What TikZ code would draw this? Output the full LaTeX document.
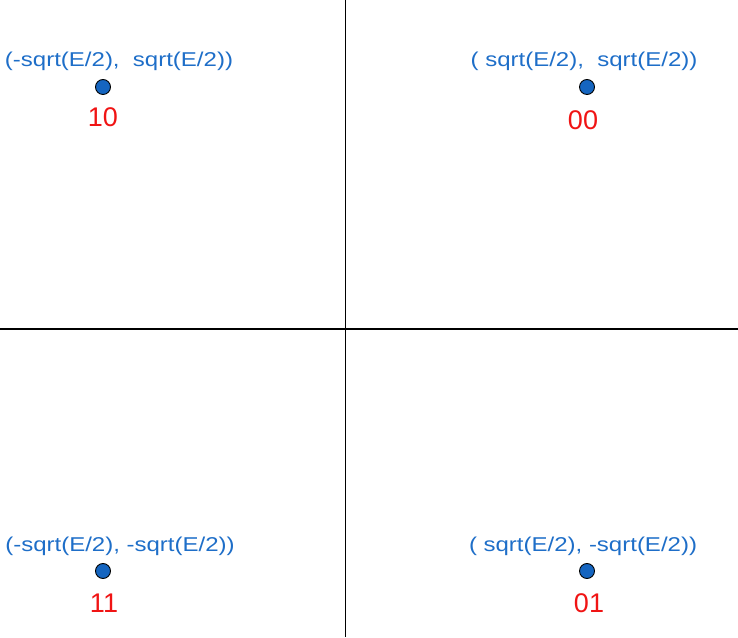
\documentclass[tikz,border=0pt]{standalone}
\usepackage{fontspec}
\setmainfont{Liberation Sans}
\usepackage{tikz}
\usetikzlibrary{positioning}
\definecolor{ptblue}{RGB}{21,101,192}
\definecolor{txtblue}{RGB}{30,110,200}
\definecolor{bitred}{RGB}{240,20,20}
\tikzset{
  axis/.style={line width=1.2pt, black},
  point/.style={circle, draw=black, fill=ptblue, line width=0.9pt, minimum size=15pt, inner sep=0pt},
  coordlabel/.style={text=txtblue, inner sep=0pt, font=\fontsize{20}{24}\selectfont, xscale=1.2},
  bits/.style={text=bitred, inner sep=0pt, font=\fontsize{27}{32}\selectfont}
}
\begin{document}
\begin{tikzpicture}[x=1pt, y=1pt]
        \useasboundingbox (0,0) rectangle (738,637);
        % axes
        \coordinate (top) at (345.5,637);
        \coordinate (bottom) at (345.5,0);
        \coordinate (left) at (0,308);
        \coordinate (right) at (738,308);
        \draw [axis] (top) -- (bottom);
        \draw [axis] (left) -- (right);

        % constellation points
        \node (p10) [point] at (103,550) {};
        \node (p00) [point] at (587,550) {};
        \node (p11) [point] at (103,66) {};
        \node (p01) [point] at (587,66) {};

        \node (c10) [coordlabel] at (119,576) {(-sqrt(E/2),\ \ sqrt(E/2))};
        \node (c00) [coordlabel] at (584,576) {(\ sqrt(E/2),\ \ sqrt(E/2))};
        \node (c11) [coordlabel] at (120,91) {(-sqrt(E/2), -sqrt(E/2))};
        \node (c01) [coordlabel] at (583,91) {(\ sqrt(E/2), -sqrt(E/2))};

        \node (b10) [bits] at (103,519.5) {10};
        \node (b00) [bits] at (583,517) {00};
        \node (b11) [bits] at (104,34) {11};
        \node (b01) [bits] at (589,34) {01};
    \end{tikzpicture}
\end{document}
